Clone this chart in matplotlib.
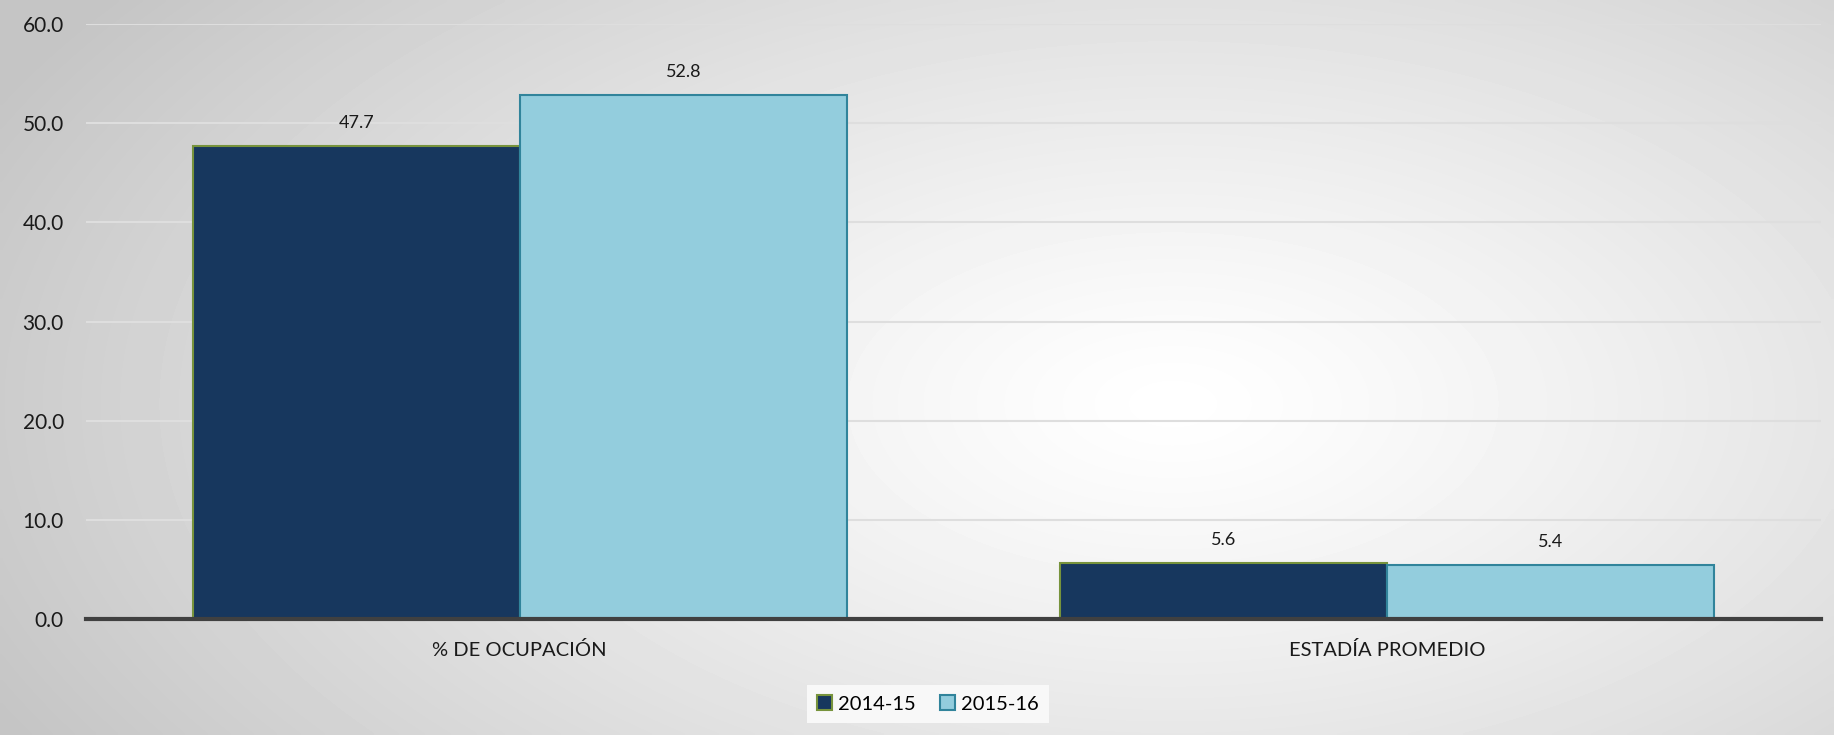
import matplotlib.pyplot as plt
import numpy as np

plt.rcParams["font.family"] = ["Lato", "DejaVu Sans"]

# chart data
categories = ["% DE OCUPACIÓN", "ESTADÍA PROMEDIO"]
series_names = ["2014-15", "2015-16"]
values_2014 = [47.7, 5.6]
values_2015 = [52.8, 5.4]
y_ticks = [0, 10, 20, 30, 40, 50, 60]

fill_colors = ["#17375e", "#93cddd"]
edge_colors = ["#77933c", "#31849b"]

fig = plt.figure(figsize=(18.34, 7.35), dpi=100)

# radial grey-to-white background
bg = fig.add_axes([0, 0, 1, 1], zorder=-10)
gx, gy = np.meshgrid(np.linspace(0, 1, 400), np.linspace(0, 1, 200))
dist = np.sqrt(((gx - 0.64) / 0.72) ** 2 + ((gy - 0.55) / 0.95) ** 2)
dist = np.clip(dist, 0, 1)
shade = 1.0 - (1.0 - 0.77) * dist ** 1.2
bg.imshow(shade, cmap="gray", vmin=0, vmax=1, extent=[0, 1, 0, 1],
          aspect="auto", origin="upper", interpolation="bilinear")
bg.axis("off")

ax = fig.add_axes([0.0469, 0.1578, 0.946, 0.8095])
ax.patch.set_alpha(0)

x = np.arange(len(categories))
width = 0.377
all_vals = [values_2014, values_2015]
for i, vals in enumerate(all_vals):
    pos = x + (i - 0.5) * width
    bars = ax.bar(pos, vals, width, color=fill_colors[i], edgecolor=edge_colors[i],
                  linewidth=1.5, label=series_names[i], zorder=3)
    for b, v in zip(bars, vals):
        ax.annotate(f"{v:.1f}", (b.get_x() + b.get_width() / 2, v),
                    xytext=(0, 11), textcoords="offset points",
                    ha="center", va="bottom", fontsize=13, color="#1a1a1a")

ax.set_xlim(-0.5, 1.5)
ax.set_ylim(0, 60)
ax.set_yticks(y_ticks)
ax.set_yticklabels([f"{t:.1f}" for t in y_ticks], fontsize=15, color="#1a1a1a")
ax.set_xticks(x)
ax.set_xticklabels(categories, fontsize=14.5, color="#1a1a1a")
ax.tick_params(axis="both", length=0)
ax.tick_params(axis="y", pad=16)
ax.tick_params(axis="x", pad=16)

ax.grid(axis="y", color="#dedede", linewidth=1.5, zorder=0)
for s in ["top", "right", "left"]:
    ax.spines[s].set_visible(False)
ax.spines["bottom"].set_color("#404040")
ax.spines["bottom"].set_linewidth(3)
ax.spines["bottom"].set_zorder(4)

leg = fig.legend(loc="center", bbox_to_anchor=(0.506, 0.042), ncol=2, fontsize=14.5,
                 frameon=True, fancybox=False, handlelength=0.75, handleheight=0.75,
                 handletextpad=0.3, columnspacing=1.2, borderpad=0.5)
leg.get_frame().set_facecolor("#f8f8f8")
leg.get_frame().set_edgecolor("none")
leg.get_frame().set_alpha(1)

fig.savefig("out.png", dpi=100)
